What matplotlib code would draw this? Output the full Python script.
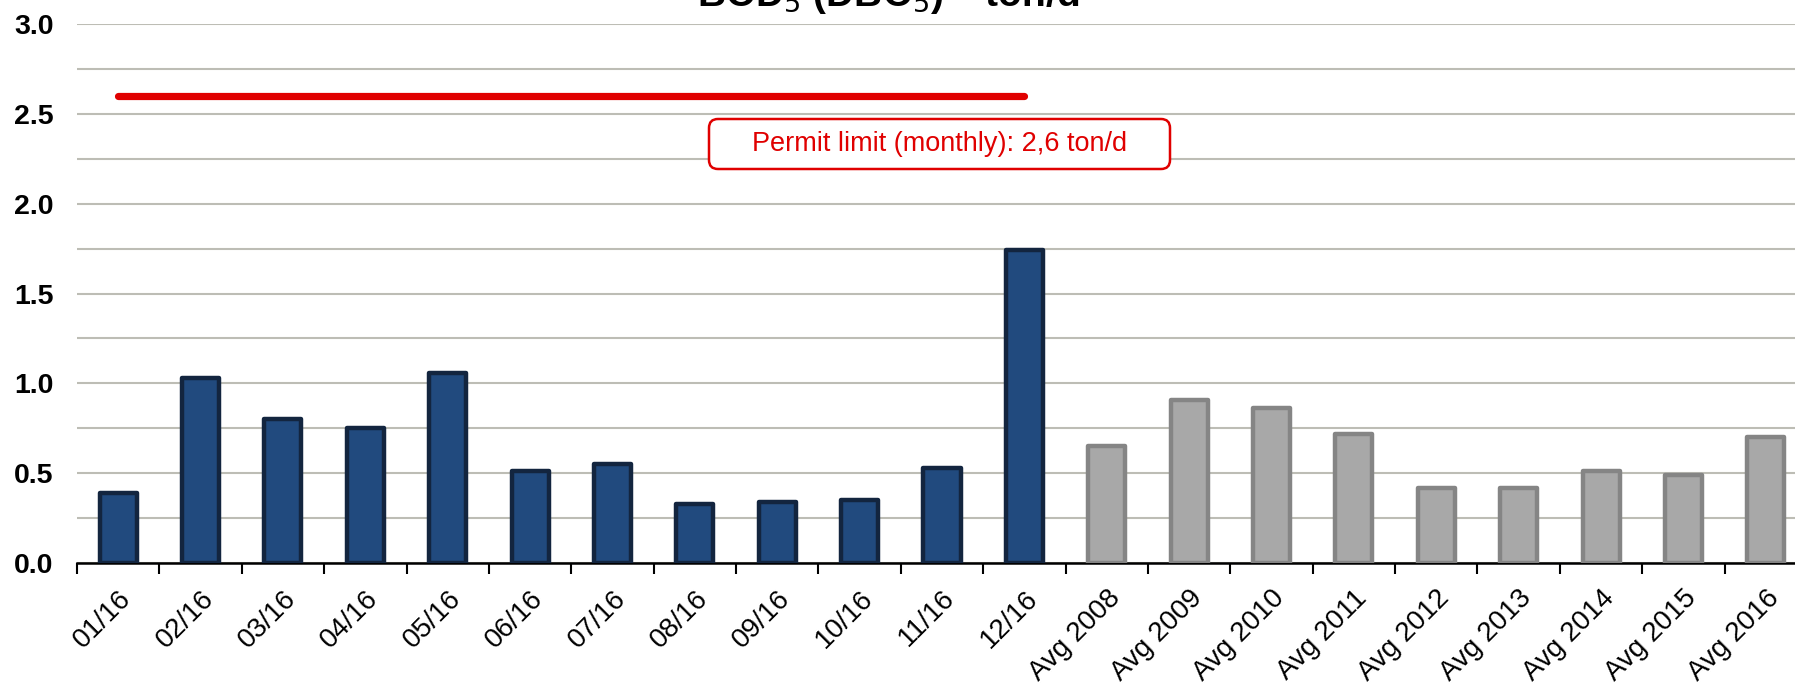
import matplotlib
matplotlib.use("Agg")
import matplotlib.pyplot as plt
from matplotlib.patches import FancyBboxPatch
import numpy as np

plt.rcParams['font.family'] = ['Liberation Sans', 'DejaVu Sans']

months = ["01/16", "02/16", "03/16", "04/16", "05/16", "06/16", "07/16", "08/16",
          "09/16", "10/16", "11/16", "12/16"]
month_values = [0.39, 1.03, 0.80, 0.75, 1.06, 0.51, 0.55, 0.33, 0.34, 0.35, 0.53, 1.74]
years = ["Avg 2008", "Avg 2009", "Avg 2010", "Avg 2011", "Avg 2012", "Avg 2013",
         "Avg 2014", "Avg 2015", "Avg 2016"]
year_values = [0.65, 0.91, 0.86, 0.72, 0.42, 0.42, 0.51, 0.49, 0.70]
permit_limit = 2.6
permit_text = "Permit limit (monthly): 2,6 ton/d"
title = "BOD$_5$ (DBO$_5$) – ton/d"

W, H = 1795, 685
fig = plt.figure(figsize=(W / 100, H / 100), dpi=100)
ax = fig.add_axes([77 / W, (H - 563) / H, 1730 / W, (563 - 24) / H])

labels = months + years
n = len(labels)
xm = np.arange(len(months))
xy = np.arange(len(months), n)

ax.bar(xm, month_values, width=0.45, color="#214a7e", edgecolor="#13253f",
       linewidth=3.2, joinstyle="round", zorder=3)
ax.bar(xy, year_values, width=0.45, color="#a8a8a8", edgecolor="#858585",
       linewidth=3.2, joinstyle="round", zorder=3)

ax.plot([xm[0], xm[-1]], [permit_limit, permit_limit], color="#e00000",
        linewidth=5.2, solid_capstyle="round", zorder=4)

# annotation box (figure-pixel geometry)
bx0, by0, bw, bh = 709, H - 169, 461, 50
box = FancyBboxPatch((bx0 / W, by0 / H), bw / W, bh / H,
                     boxstyle=f"round,pad=0,rounding_size={9 / W}",
                     mutation_aspect=W / H, transform=fig.transFigure,
                     facecolor="white", edgecolor="#e00000", linewidth=1.8,
                     zorder=5)
fig.patches.append(box)
fig.text((bx0 + bw / 2) / W, (by0 + bh / 2) / H, permit_text, ha="center",
         va="center", fontsize=19.5, color="#e00000", zorder=6)

ax.set_xlim(-0.5, n - 0.5)
ax.set_ylim(0, 3.0)
ax.set_yticks(np.arange(0, 3.01, 0.5))
ax.set_yticklabels([f"{v:.1f}" for v in np.arange(0, 3.01, 0.5)],
                   fontsize=20.5, fontweight="bold")
ax.set_yticks(np.arange(0, 3.01, 0.25), minor=True)
ax.tick_params(axis="y", which="both", length=0, pad=17)
ax.yaxis.grid(True, which="both", color="#bdbdb5", linewidth=1.5, zorder=0)
ax.set_axisbelow(True)

ax.set_xticks(np.arange(n))
ax.set_xticklabels(labels, rotation=45, ha="right", rotation_mode="anchor",
                   fontsize=20)
ax.set_xticks(np.arange(-0.5, n, 1.0), minor=True)
ax.tick_params(axis="x", which="major", length=0, pad=16)
ax.tick_params(axis="x", which="minor", length=8, width=1.5, color="black")

for s in ["left", "right", "top"]:
    ax.spines[s].set_visible(False)
ax.spines["bottom"].set_linewidth(1.8)

fig.text(888 / W, 1 - 6 / H, title, ha="center", va="baseline",
         fontsize=28, fontweight="bold")

fig.savefig("out.png", dpi=100)
